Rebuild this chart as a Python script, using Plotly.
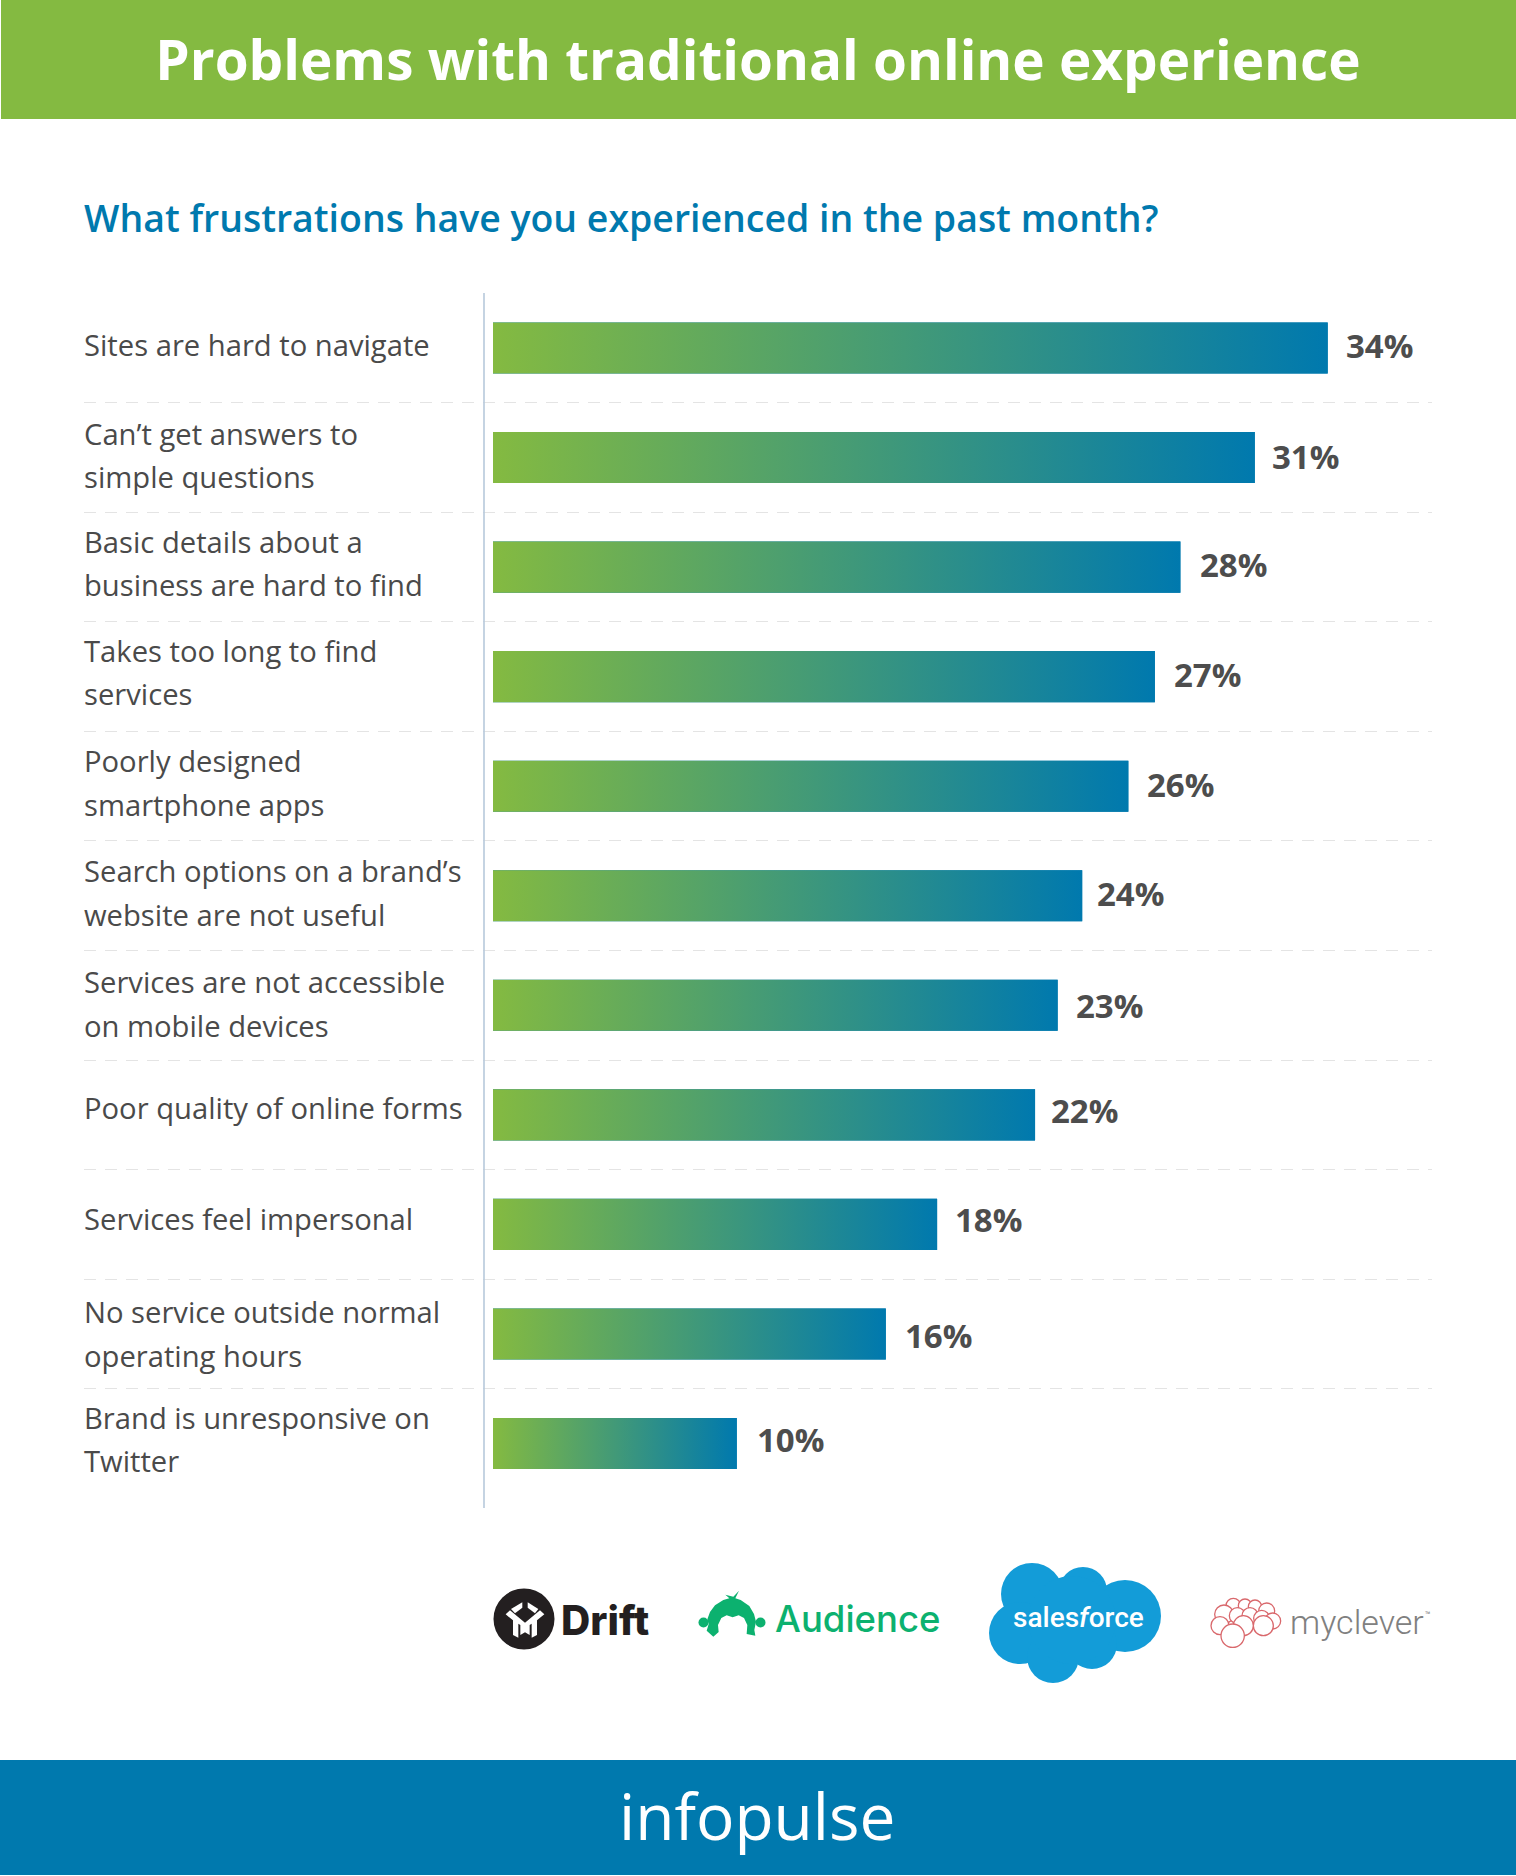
import plotly.graph_objects as go

# ---- data ----
label_lines = [
    ["Sites are hard to navigate"],
    ["Can’t get answers to", "simple questions"],
    ["Basic details about a", "business are hard to find"],
    ["Takes too long to find", "services"],
    ["Poorly designed", "smartphone apps"],
    ["Search options on a brand’s", "website are not useful"],
    ["Services are not accessible", "on mobile devices"],
    ["Poor quality of online forms"],
    ["Services feel impersonal"],
    ["No service outside normal", "operating hours"],
    ["Brand is unresponsive on", "Twitter"],
]
# bar lengths (the printed labels are these, rounded)
values = [34, 31.03, 28, 26.96, 25.88, 24, 23, 22.08, 18.09, 16, 9.93]
title_text = "Problems with traditional online experience"
question_text = "What frustrations have you experienced in the past month?"
footer_text = "infopulse"

# ---- page geometry / colours ----
W, H = 1516, 1876
GREEN, BLUE = "#84BA41", "#0079AE"
INK = "#4A4A4A"
ZERO_PX, PX_PER_UNIT = 493, 24.55
ROW0_PX, ROW_PX = 348, 109.55
BAR_HALF = 0.233
PLOT_L, PLOT_R, PLOT_T, PLOT_B = 84, 1432, 293, 1508


def X(p):
    return p / W


def Y(p):
    return 1 - p / H


def rect(x0, y0, x1, y1, color):
    return dict(type="rect", xref="paper", yref="paper", x0=X(x0), x1=X(x1), y0=Y(y0), y1=Y(y1),
                fillcolor=color, line_width=0, layer="below")


def circle(cx, cy, r, color, line=None, lw=0):
    return dict(type="circle", xref="paper", yref="paper", x0=X(cx - r), x1=X(cx + r), y0=Y(cy - r), y1=Y(cy + r),
                fillcolor=color, line=dict(color=line or color, width=lw), layer="above")


def poly(points, ox, oy, s, color):
    d = "M" + " L".join(f"{X(ox + a / s):.5f},{Y(oy + b / s):.5f}" for a, b in points) + " Z"
    return dict(type="path", xref="paper", yref="paper", path=d, fillcolor=color, line_width=0, layer="above")


def text(x, y, s, size, color, family="Open Sans", weight=400, anchor="center", **kw):
    return dict(xref="paper", yref="paper", x=X(x), y=Y(y), text=s, showarrow=False, xanchor=anchor, yanchor="middle",
                font=dict(family=family, size=size, color=color, weight=weight), **kw)


fig = go.Figure()
rows = list(range(len(values)))

# plain bars from the values
fig.add_trace(go.Bar(x=values, y=rows, orientation="h", width=2 * BAR_HALF,
                     marker=dict(color=BLUE, line_width=0), showlegend=False,
                     customdata=[" ".join(l) for l in label_lines],
                     hovertemplate="%{customdata}: %{x:.0f}%<extra></extra>"))

# gradient skin over each bar
for r, v in zip(rows, values):
    fig.add_trace(go.Scatter(
        x=[0, v, v, 0, 0], y=[r - BAR_HALF, r - BAR_HALF, r + BAR_HALF, r + BAR_HALF, r - BAR_HALF],
        mode="lines", line_width=0, fill="toself", hoverinfo="skip", showlegend=False,
        fillgradient=dict(type="horizontal", colorscale=[[0, GREEN], [1, BLUE]]),
    ))

annotations = []
label_nudge = [3, 2, 3.5, 4, 3, 3, 1.5, 7, 5, 0, 4]
value_xshift = [16.5, 15, 18, 17, 16.5, 13, 16, 13.5, 15.5, 17.5, 18.5]
value_yshift = [2, 1, 3, 2, 2, 2, 0, 4.5, 4.5, -1.5, 4.5]
for r, (lines, v) in enumerate(zip(label_lines, values)):
    n = len(lines)
    for k, line in enumerate(lines):
        annotations.append(dict(xref="paper", yref="y", x=X(82), y=r, text=line, showarrow=False,
                                xanchor="left", yanchor="middle",
                                yshift=(n - 1) * 21.85 * (1 - 2 * k) + label_nudge[r],
                                font=dict(family="Open Sans", size=29.2, color=INK)))
    annotations.append(dict(xref="x", yref="y", x=v, y=r, text=f"{round(v)}%", showarrow=False, xanchor="left",
                            yanchor="middle", xshift=value_xshift[r], yshift=value_yshift[r],
                            font=dict(family="Open Sans", size=33, color="#4D4D4D", weight=700)))

annotations.append(text(82, 217, question_text, 37.45, BLUE, weight=600, anchor="left"))
annotations.append(text(757, 1815, footer_text, 64, "#FFFFFF", weight=500))

shapes = [
    rect(1, 0, W, 119, GREEN),
    rect(0, 1760, W, 1875, BLUE),
    dict(type="line", xref="paper", yref="paper", x0=X(484), x1=X(484), y0=Y(PLOT_T), y1=Y(PLOT_B),
         line=dict(color="#B7C9DB", width=1.6), layer="above"),
]

# --- Drift logo ---
shapes.append(circle(524, 1619, 30.5, "#231F20"))
for pts in [
    [(112, 82), (112, 98), (90, 115), (78, 102)],
    [(128, 82), (160, 102), (150, 115), (128, 98)],
    [(62, 118), (75, 106), (120, 143), (120, 172), (106, 180), (106, 150), (100, 146), (100, 188), (84, 180), (84, 136)],
    [(178, 118), (165, 106), (120, 143), (120, 172), (134, 180), (134, 150), (140, 146), (140, 188), (156, 180), (156, 136)],
]:
    shapes.append(poly(pts, 485, 1575, 3, "#FFFFFF"))
annotations.append(text(605, 1620, "Drift", 40.5, "#231F20", family="Inter", weight=800))

# --- Audience logo ---
AUD = "#0CB16F"
shapes.append(circle(703.5, 1622.5, 5, AUD))
shapes.append(circle(760.5, 1622.5, 5, AUD))
shapes.append(poly([(52, 118), (60, 96), (75, 76), (100, 60), (118, 55), (106, 44), (130, 50), (147, 32), (136, 55),
                    (152, 60), (178, 78), (192, 102), (198, 125), (193, 150), (196, 167), (170, 162), (172, 135),
                    (162, 114), (146, 106), (128, 112), (110, 106), (94, 114), (84, 135), (86, 156), (70, 170),
                    (50, 152), (56, 132)], 690, 1580, 3, AUD))
annotations.append(text(858, 1619, "Audience", 36.5, AUD, family="Inter", weight=500))

# --- salesforce logo ---
SF = "#139CD8"
for cx, cy, r in [(1032, 1594, 31), (1083, 1591, 24), (1125, 1616, 36), (1020, 1633, 31),
                  (1053, 1657, 26), (1092, 1644, 25), (1072, 1620, 44)]:
    shapes.append(circle(cx, cy, r, SF))
annotations.append(text(1078, 1617, "sales<i>f</i>orce", 28, "#FFFFFF", family="Roboto", weight=500))

# --- myclever logo ---
RED = "#D9686C"
for a, b, r in [(100, 62, 22), (135, 62, 20), (165, 65, 20), (200, 78, 24), (72, 88, 28), (112, 92, 24), (150, 92, 24),
                (185, 100, 24), (218, 108, 24), (60, 122, 27), (190, 122, 30), (130, 122, 30), (98, 152, 35)]:
    shapes.append(circle(1200 + a / 3, 1585 + b / 3, r / 3, "#FFFFFF", RED, 1.3))
annotations.append(text(1288, 1622, "myclever", 34, "#808080", family="Roboto", weight=300, anchor="left"))
annotations.append(text(1428, 1615, "™", 9, "#808080", family="Roboto"))

fig.update_layout(
    width=W, height=H, margin=dict(l=0, r=0, t=0, b=0), autosize=False,
    paper_bgcolor="#FFFFFF", plot_bgcolor="#FFFFFF", showlegend=False, barmode="overlay",
    title=dict(text=f"<b>{title_text}</b>", x=0.5, xanchor="center", xref="paper", y=Y(61), yanchor="middle",
               yref="paper", font=dict(family="Open Sans", size=54.8, color="#FFFFFF")),
    xaxis=dict(domain=[X(PLOT_L), X(PLOT_R)], range=[(PLOT_L - ZERO_PX) / PX_PER_UNIT, (PLOT_R - ZERO_PX) / PX_PER_UNIT],
               visible=False, fixedrange=True),
    yaxis=dict(domain=[Y(PLOT_B), Y(PLOT_T)], range=[(PLOT_B - ROW0_PX) / ROW_PX, (PLOT_T - ROW0_PX) / ROW_PX],
               tickvals=[r + 0.5 for r in rows[:-1]], showticklabels=False, ticks="", showline=False, zeroline=False,
               showgrid=True, gridcolor="#E4E4E4", gridwidth=1.4, griddash="12px,9px", fixedrange=True),
    annotations=annotations, shapes=shapes,
)

fig.write_html("out.html", config=dict(displayModeBar=False),
               post_script="document.body.style.margin='0';document.documentElement.style.overflow='hidden';")
